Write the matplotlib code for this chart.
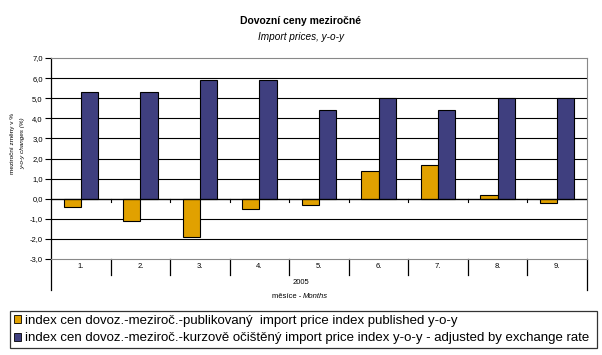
import numpy as np
import matplotlib
matplotlib.use('Agg')
import matplotlib.pyplot as plt
from matplotlib.lines import Line2D
from matplotlib.patches import Patch
from matplotlib.ticker import FuncFormatter, MultipleLocator

# data
months = ['1.', '2.', '3.', '4.', '5.', '6.', '7.', '8.', '9.']
published = [-0.4, -1.1, -1.9, -0.5, -0.3, 1.4, 1.7, 0.2, -0.2]
adjusted = [5.3, 5.3, 5.9, 5.9, 4.4, 5.0, 4.4, 5.0, 5.0]
label_pub = 'index cen dovoz.-meziroč.-publikovaný  import price index published y-o-y'
label_adj = 'index cen dovoz.-meziroč.-kurzově očištěný import price index y-o-y - adjusted by exchange rate'

plt.rcParams['font.family'] = ['Liberation Sans', 'DejaVu Sans']

c_pub = '#E1A100'
c_adj = '#3F3F7F'

fig = plt.figure(figsize=(6.02, 3.55), dpi=100)
ax = fig.add_axes([51 / 602, 1 - 259 / 355, 536 / 602, 201 / 355])

x = np.arange(len(months))
w = 0.29
ax.bar(x - w / 2, published, w, color=c_pub, edgecolor='black', linewidth=0.8, zorder=3)
ax.bar(x + w / 2, adjusted, w, color=c_adj, edgecolor='black', linewidth=0.8, zorder=3)

ax.set_xlim(-0.5, len(months) - 0.5)
ax.set_ylim(-3, 7)
ax.yaxis.set_major_locator(MultipleLocator(1))
ax.yaxis.set_major_formatter(FuncFormatter(lambda v, p: f'{v:.1f}'.replace('.', ',')))
ax.tick_params(axis='y', labelsize=5.5, length=4, width=0.8, pad=2)
ax.set_xticks([])

# gridlines
for v in range(-2, 7):
    ax.axhline(v, color='black', linewidth=0.8, zorder=1)

for s in ['top', 'right', 'bottom']:
    ax.spines[s].set_color('#888888')
    ax.spines[s].set_linewidth(0.8)
ax.spines['left'].set_visible(False)

# axis lines extending below the plot
ax.add_line(Line2D([0, 0], [1, -31 / 201], transform=ax.transAxes,
                   color='black', linewidth=0.9, clip_on=False))
ax.add_line(Line2D([1, 1], [0, -31 / 201], transform=ax.transAxes,
                   color='black', linewidth=0.9, clip_on=False))

# category axis at zero with small ticks
ax.axhline(0, color='black', linewidth=0.9, zorder=4)
bounds = np.arange(len(months) + 1) - 0.5
trans = ax.get_xaxis_transform()
for b in bounds[1:-1]:
    ax.plot([b, b], [0, -0.15], color='black', linewidth=0.8, zorder=4)
    ax.plot([b, b], [0, -16 / 201], transform=trans, color='black',
            linewidth=0.9, clip_on=False)

for xi, m in zip(x, months):
    ax.text(xi, -8 / 201, m, transform=trans, ha='center', va='center', fontsize=5.5)

fig.text(0.5, 1 - 283 / 355, '2005', ha='center', va='center', fontsize=5.5)
fig.text(303 / 602, 1 - 297 / 355, 'měsíce - ', ha='right', va='center', fontsize=5.5)
fig.text(303 / 602, 1 - 297 / 355, 'Months', ha='left', va='center', fontsize=5.5,
         style='italic')

fig.text(0.5, 1 - 21 / 355, 'Dovozní ceny meziročné', ha='center', va='center',
         fontsize=7.5, fontweight='bold')
fig.text(0.5, 1 - 37 / 355, 'Import prices, y-o-y', ha='center', va='center',
         fontsize=7.2, style='italic')

fig.text(13 / 602, 1 - 143 / 355, 'meziroční změny v %', rotation=90,
         ha='center', va='center', fontsize=4.6)
fig.text(23 / 602, 1 - 143 / 355, 'y-o-y changes (%)', rotation=90,
         ha='center', va='center', fontsize=4.6, style='italic')

handles = [Patch(facecolor=c_pub, edgecolor='black', linewidth=0.6),
           Patch(facecolor=c_adj, edgecolor='black', linewidth=0.6)]
leg = fig.legend(handles, [label_pub, label_adj], loc='upper left',
                 bbox_to_anchor=(10 / 602, 1 - 351 / 355, 587 / 602, 40 / 355),
                 mode='expand', fontsize=9.5, handlelength=0.55, handleheight=0.55,
                 handletextpad=0.3, borderpad=0.3, labelspacing=0.4,
                 borderaxespad=0, fancybox=False, frameon=True)
leg.get_frame().set_edgecolor('black')
leg.get_frame().set_linewidth(0.9)

fig.savefig('out.png', dpi=100)
